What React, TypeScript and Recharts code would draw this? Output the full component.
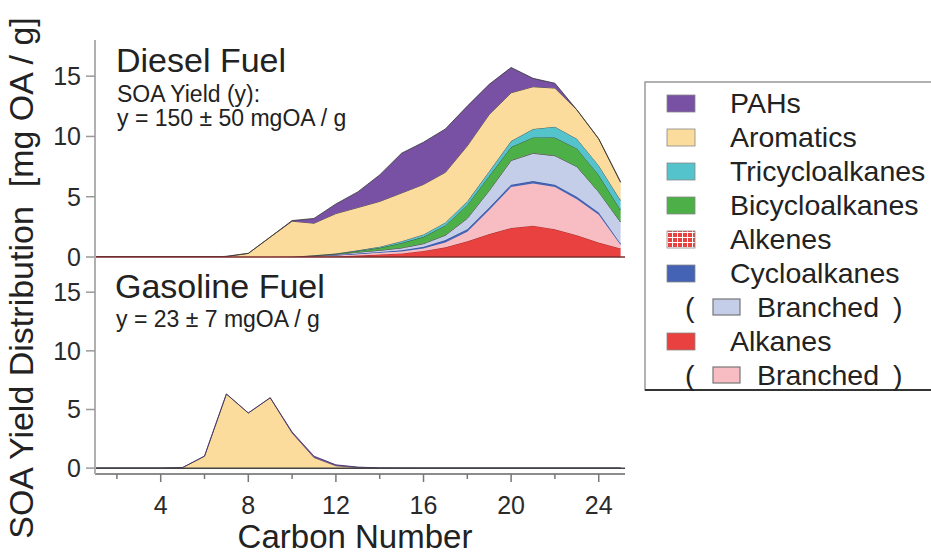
import React from 'react';
import { AreaChart, Area, XAxis, YAxis, ReferenceLine } from 'recharts';

// ---- data ----
const carbon = [1, 2, 3, 4, 5, 6, 7, 8, 9, 10, 11, 12, 13, 14, 15, 16, 17, 18, 19, 20, 21, 22, 23, 24, 25];

// Diesel fuel (stack order bottom -> top)
const dieselAlkanes = [0, 0, 0, 0, 0, 0, 0, 0, 0, 0, 0.02, 0.05, 0.12, 0.2, 0.3, 0.5, 0.8, 1.3, 1.9, 2.4, 2.6, 2.3, 1.8, 1.2, 0.7];
const dieselBranchedAlkanes = [0, 0, 0, 0, 0, 0, 0, 0, 0, 0, 0.03, 0.07, 0.1, 0.15, 0.15, 0.2, 0.4, 0.8, 2.0, 3.4, 3.5, 3.5, 3.0, 2.3, 0.3];
const dieselCycloalkanes = [0, 0, 0, 0, 0, 0, 0, 0, 0, 0.01, 0.03, 0.04, 0.06, 0.07, 0.1, 0.15, 0.2, 0.2, 0.2, 0.2, 0.2, 0.2, 0.2, 0.2, 0.1];
const dieselBranchedCyclo = [0, 0, 0, 0, 0, 0, 0, 0, 0, 0.01, 0.02, 0.06, 0.12, 0.13, 0.2, 0.25, 0.4, 0.9, 1.4, 2.0, 2.3, 2.4, 2.5, 1.7, 1.8];
const dieselAlkenes = [0, 0, 0, 0, 0, 0, 0, 0, 0, 0, 0, 0, 0, 0.01, 0.01, 0.02, 0.02, 0.02, 0.02, 0.02, 0.02, 0.01, 0.01, 0, 0];
const dieselBicyclo = [0, 0, 0, 0, 0, 0, 0, 0, 0, 0, 0.03, 0.05, 0.1, 0.2, 0.4, 0.55, 0.8, 1.1, 1.2, 1.1, 1.3, 1.5, 1.5, 1.4, 1.0];
const dieselTricyclo = [0, 0, 0, 0, 0, 0, 0, 0, 0, 0, 0.02, 0.03, 0.05, 0.1, 0.15, 0.2, 0.25, 0.3, 0.4, 0.5, 0.7, 0.9, 0.8, 0.8, 0.8];
const dieselAromatics = [0, 0, 0, 0, 0, 0, 0.05, 0.3, 1.65, 2.95, 2.65, 3.3, 3.55, 3.75, 4.0, 4.15, 4.15, 4.6, 4.7, 4.0, 3.5, 3.2, 2.4, 2.2, 1.5];
const dieselPAHs = [0, 0, 0, 0, 0, 0, 0, 0, 0, 0.05, 0.4, 0.8, 1.3, 2.2, 3.3, 3.5, 3.6, 3.3, 2.5, 2.1, 0.7, 0.4, 0, 0, 0];

// Gasoline fuel
const gasCycloalkanes = [0, 0, 0, 0, 0, 0.02, 0.02, 0, 0, 0, 0, 0, 0, 0, 0, 0, 0, 0, 0, 0, 0, 0, 0, 0, 0];
const gasAromatics = [0, 0, 0, 0, 0.05, 1.0, 6.3, 4.7, 6.0, 3.0, 0.9, 0.2, 0.05, 0, 0, 0, 0, 0, 0, 0, 0, 0, 0, 0, 0];
const gasPAHs = [0, 0, 0, 0, 0, 0, 0, 0, 0, 0.08, 0.12, 0.08, 0.04, 0.02, 0.01, 0, 0, 0, 0, 0, 0, 0, 0, 0, 0];

const xTicks = [2, 4, 6, 8, 10, 12, 14, 16, 18, 20, 22, 24];
const yTicks = [0, 5, 10, 15];

// ---- styling ----
const FONT = '"Liberation Sans", Arial, Helvetica, sans-serif';
const C = {
  pahs: '#7850a4',
  aromatics: '#fcdc9c',
  tricyclo: '#54c3cc',
  bicyclo: '#4caf48',
  alkenes: 'url(#alkenePat)',
  cyclo: '#4563b5',
  branchedCyclo: '#c4cee8',
  alkanes: '#e94140',
  branchedAlkanes: '#f7bdc2',
};

const dieselSeries = [
  { key: 'alkanes', values: dieselAlkanes, fill: C.alkanes, stroke: '#8a2a2a' },
  { key: 'branchedAlkanes', values: dieselBranchedAlkanes, fill: C.branchedAlkanes, stroke: '#f7bdc2' },
  { key: 'cyclo', values: dieselCycloalkanes, fill: C.cyclo, stroke: '#2d4a9a' },
  { key: 'branchedCyclo', values: dieselBranchedCyclo, fill: C.branchedCyclo, stroke: '#555' },
  { key: 'alkenes', values: dieselAlkenes, fill: C.alkenes, stroke: '#555' },
  { key: 'bicyclo', values: dieselBicyclo, fill: C.bicyclo, stroke: '#333' },
  { key: 'tricyclo', values: dieselTricyclo, fill: C.tricyclo, stroke: '#333' },
  { key: 'aromatics', values: dieselAromatics, fill: C.aromatics, stroke: '#333' },
  { key: 'pahs', values: dieselPAHs, fill: C.pahs, stroke: '#333' },
];

const gasSeries = [
  { key: 'cyclo', values: gasCycloalkanes, fill: C.cyclo, stroke: '#2d4a9a' },
  { key: 'aromatics', values: gasAromatics, fill: C.aromatics, stroke: '#444' },
  { key: 'pahs', values: gasPAHs, fill: C.pahs, stroke: '#3a2a6a' },
];

const buildData = (series: { key: string; values: number[] }[]) =>
  carbon.map((c, i) => {
    const row: Record<string, number> = { carbon: c };
    series.forEach((s) => {
      row[s.key] = s.values[i];
    });
    return row;
  });

const dieselData = buildData(dieselSeries);
const gasData = buildData(gasSeries);

const legendItems = [
  { label: 'PAHs', fill: C.pahs, branched: false },
  { label: 'Aromatics', fill: C.aromatics, branched: false },
  { label: 'Tricycloalkanes', fill: C.tricyclo, branched: false },
  { label: 'Bicycloalkanes', fill: C.bicyclo, branched: false },
  { label: 'Alkenes', fill: C.alkenes, branched: false },
  { label: 'Cycloalkanes', fill: C.cyclo, branched: false },
  { label: 'Branched', fill: C.branchedCyclo, branched: true },
  { label: 'Alkanes', fill: C.alkanes, branched: false },
  { label: 'Branched', fill: C.branchedAlkanes, branched: true },
];

const X_DOMAIN: [number, number] = [1, 25.2];

const yTickStyle = { fill: '#2a2a2a', fontSize: 25, fontFamily: FONT };

const XTick = (props: any) => {
  const { x, y, payload } = props;
  const major = payload.value % 4 === 0;
  return (
    <g>
      <line x1={x} x2={x} y1={y} y2={y + (major ? 8 : 5)} stroke="#777" strokeWidth={1.5} />
      {major && (
        <text x={x} y={y + 40} textAnchor="middle" fill="#2a2a2a" fontSize={25} fontFamily={FONT}>
          {payload.value}
        </text>
      )}
    </g>
  );
};

export default function App() {
  return (
    <div style={{ position: 'absolute', left: 0, top: 0, width: 931, height: 554, background: '#fff', overflow: 'hidden' }}>
      {/* Top panel: Diesel */}
      <div style={{ position: 'absolute', left: 0, top: 0 }}>
        <AreaChart width={931} height={280} data={dieselData} margin={{ top: 40, right: 306, bottom: 23, left: 0 }}>
          <XAxis type="number" dataKey="carbon" domain={X_DOMAIN} allowDataOverflow hide />
          <YAxis
            domain={[0, 18]}
            ticks={yTicks}
            interval={0}
            width={95}
            tickSize={9}
            tickMargin={5}
            axisLine={{ stroke: '#b0b0b0', strokeWidth: 2 }}
            tickLine={{ stroke: '#999', strokeWidth: 1.5 }}
            tick={yTickStyle}
            allowDataOverflow
          />
          {dieselSeries.map((s) => (
            <Area
              key={s.key}
              type="linear"
              dataKey={s.key}
              stackId="d"
              fill={s.fill}
              fillOpacity={1}
              stroke={s.stroke}
              strokeWidth={0.8}
              isAnimationActive={false}
              dot={false}
              activeDot={false}
            />
          ))}
          <ReferenceLine y={0} stroke="#7d2b2b" strokeWidth={1.5} />
        </AreaChart>
      </div>

      {/* Bottom panel: Gasoline */}
      <div style={{ position: 'absolute', left: 0, top: 0 }}>
        <AreaChart width={931} height={554} data={gasData} margin={{ top: 257, right: 306, bottom: 50, left: 0 }}>
          <XAxis
            type="number"
            dataKey="carbon"
            domain={X_DOMAIN}
            allowDataOverflow
            ticks={xTicks}
            interval={0}
            height={30}
            tickSize={0}
            tickMargin={0}
            tickLine={false}
            axisLine={{ stroke: '#666', strokeWidth: 1.5 }}
            tick={<XTick />}
          />
          <YAxis
            domain={[-0.5, 18]}
            ticks={yTicks}
            interval={0}
            width={95}
            tickSize={9}
            tickMargin={5}
            axisLine={{ stroke: '#b0b0b0', strokeWidth: 2 }}
            tickLine={{ stroke: '#999', strokeWidth: 1.5 }}
            tick={yTickStyle}
            allowDataOverflow
          />
          {gasSeries.map((s) => (
            <Area
              key={s.key}
              type="linear"
              dataKey={s.key}
              stackId="g"
              fill={s.fill}
              fillOpacity={1}
              stroke={s.stroke}
              strokeWidth={0.8}
              isAnimationActive={false}
              dot={false}
              activeDot={false}
            />
          ))}
          <ReferenceLine y={0} stroke="#444" strokeWidth={1.5} />
        </AreaChart>
      </div>

      {/* Texts and legend */}
      <svg width={931} height={554} style={{ position: 'absolute', left: 0, top: 0, pointerEvents: 'none' }} fontFamily={FONT}>
        <defs>
          <pattern id="alkenePat" width="5" height="5" patternUnits="userSpaceOnUse">
            <rect width="5" height="5" fill="#e94140" />
            <path d="M0 2.5 H5 M2.5 0 V5" stroke="#fff" strokeWidth="1" />
          </pattern>
        </defs>

        <text x={33} y={278} transform="rotate(-90 33 278)" textAnchor="middle" fontSize={34} fill="#222" style={{ whiteSpace: 'pre' }}>
          {'SOA Yield Distribution  [mg OA / g]'}
        </text>
        <text x={355} y={548} textAnchor="middle" fontSize={33} fill="#222">Carbon Number</text>

        <text x={116} y={72} fontSize={34} fill="#222">Diesel Fuel</text>
        <text x={117} y={102} fontSize={23} fill="#222">SOA Yield (y):</text>
        <text x={117} y={126} fontSize={23} fill="#222">y = 150 ± 50 mgOA / g</text>

        <text x={115} y={298} fontSize={34} fill="#222">Gasoline Fuel</text>
        <text x={116} y={327} fontSize={23} fill="#222">y = 23 ± 7 mgOA / g</text>

        {/* legend */}
        <rect x={645} y={82} width={320} height={308} fill="#fff" stroke="#999" strokeWidth={1.5} />
        <line x1={645} x2={931} y1={390} y2={390} stroke="#333" strokeWidth={2} />
        {legendItems.map((it, i) => {
          const cy = 103 + i * 34;
          if (it.branched) {
            return (
              <g key={i}>
                <text x={685} y={cy + 10} fontSize={28.5} fill="#222">(</text>
                <rect x={713} y={cy - 8} width={27} height={16} fill={it.fill} stroke="#777" strokeWidth={1.2} />
                <text x={757} y={cy + 10} fontSize={28.5} fill="#222">{it.label}</text>
                <text x={893} y={cy + 10} fontSize={28.5} fill="#222">)</text>
              </g>
            );
          }
          return (
            <g key={i}>
              <rect x={667} y={cy - 8} width={28} height={17} fill={it.fill} stroke="#888" strokeWidth={0.8} />
              <text x={730} y={cy + 10} fontSize={28.5} fill="#222">{it.label}</text>
            </g>
          );
        })}
      </svg>
    </div>
  );
}
